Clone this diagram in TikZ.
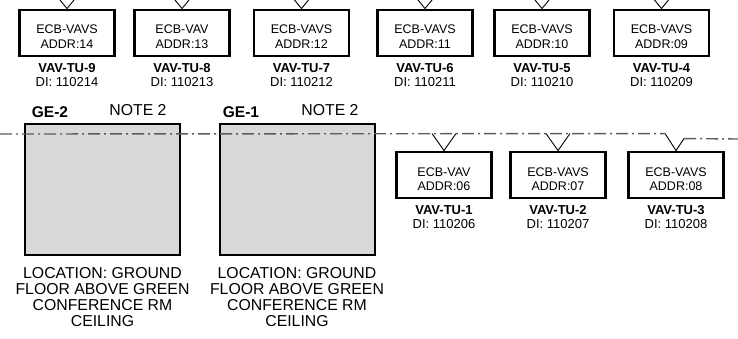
\documentclass[tikz,border=0pt]{standalone}
\usepackage{fontspec}
\setmainfont{Liberation Sans}
\usepackage{tikz}
\usetikzlibrary{positioning,calc}
\definecolor{ink}{HTML}{000000}
\definecolor{shade}{HTML}{D9D9D9}
\definecolor{busgray}{HTML}{5C5C5C}

\begin{document}
\begin{tikzpicture}[x=1pt,y=-1pt,
  ecb/.style={draw=ink,line width=2.9pt,minimum width=95pt,minimum height=46pt,
    align=center,inner sep=0pt,font=\fontsize{12.5}{14.5}\selectfont,
    text height=31pt,text depth=0pt},
  tag/.style={align=center,inner sep=0pt,font=\fontsize{13}{14}\selectfont},
  panel/.style={draw=ink,line width=2pt,fill=shade,minimum width=155pt,minimum height=131pt},
  note/.style={align=center,inner sep=0pt,font=\fontsize{15.8}{16}\selectfont},
  wire/.style={draw=ink,line width=0.9pt},
  busline/.style={draw=busgray,line width=1.4pt,dash pattern=on 12pt off 4pt on 2pt off 4pt}]
\clip (0,0) rectangle (738,339);

% top row of controllers
\node[ecb] (t9) at (67,33) {ECB-VAVS\\ADDR:14};
\node[ecb] (t8) at (182,33) {ECB-VAV\\ADDR:13};
\node[ecb] (t7) at (301.5,33) {ECB-VAVS\\ADDR:12};
\node[ecb] (t6) at (425,33) {ECB-VAVS\\ADDR:11};
\node[ecb] (t5) at (542,33) {ECB-VAVS\\ADDR:10};
\node[ecb] (t4) at (661.5,33) {ECB-VAVS\\ADDR:09};
\node[tag,below=6pt of t9] (t9l) {\textbf{VAV-TU-9}\\DI: 110214};
\node[tag,below=6pt of t8] (t8l) {\textbf{VAV-TU-8}\\DI: 110213};
\node[tag,below=6pt of t7] (t7l) {\textbf{VAV-TU-7}\\DI: 110212};
\node[tag,below=6pt of t6] (t6l) {\textbf{VAV-TU-6}\\DI: 110211};
\node[tag,below=6pt of t5] (t5l) {\textbf{VAV-TU-5}\\DI: 110210};
\node[tag,below=6pt of t4] (t4l) {\textbf{VAV-TU-4}\\DI: 110209};
\draw[wire] ($(t9.north)+(-9,-11)$) -- (t9.north) -- ($(t9.north)+(9,-11)$);
\draw[wire] ($(t8.north)+(-9,-11)$) -- (t8.north) -- ($(t8.north)+(9,-11)$);
\draw[wire] ($(t7.north)+(-9,-11)$) -- (t7.north) -- ($(t7.north)+(9,-11)$);
\draw[wire] ($(t6.north)+(-9,-11)$) -- (t6.north) -- ($(t6.north)+(9,-11)$);
\draw[wire] ($(t5.north)+(-9,-11)$) -- (t5.north) -- ($(t5.north)+(9,-11)$);
\draw[wire] ($(t4.north)+(-9,-11)$) -- (t4.north) -- ($(t4.north)+(9,-11)$);

% equipment panels
\node[panel] (ge2) at (102.5,189.5) {};
\node[panel] (ge1) at (297,189.5) {};
\node[note,font=\fontsize{15.5}{16}\selectfont\bfseries] (ge2t) at (50,112) {GE-2};
\node[note] (ge2n) at (138,110) {NOTE 2};
\node[note,font=\fontsize{15.5}{16}\selectfont\bfseries] (ge1t) at (241,112) {GE-1};
\node[note] (ge1n) at (330,110) {NOTE 2};
\node[note,below=11pt of ge2] (ge2loc) {LOCATION: GROUND\\FLOOR ABOVE GREEN\\CONFERENCE RM\\CEILING};
\node[note,below=11pt of ge1] (ge1loc) {LOCATION: GROUND\\FLOOR ABOVE GREEN\\CONFERENCE RM\\CEILING};

% lower row of controllers
\node[ecb] (b1) at (444,175) {ECB-VAV\\ADDR:06};
\node[ecb] (b2) at (558,175) {ECB-VAVS\\ADDR:07};
\node[ecb] (b3) at (676,175) {ECB-VAVS\\ADDR:08};
\node[tag,below=6pt of b1] (b1l) {\textbf{VAV-TU-1}\\DI: 110206};
\node[tag,below=6pt of b2] (b2l) {\textbf{VAV-TU-2}\\DI: 110207};
\node[tag,below=6pt of b3] (b3l) {\textbf{VAV-TU-3}\\DI: 110208};

% trunk
\coordinate (busw) at (0,134);
\coordinate (buse) at (738,139);
\coordinate (b3in) at ($(b3.north)+(-11,-17)$);
\coordinate (b3out) at ($(b3.north)+(8,-12)$);
\draw[busline] (busw) -- (b3in);
\draw[busline] (b3out) -- (buse);
\draw[wire] ($(b1.north)+(-12,-17)$) -- (b1.north) -- ($(b1.north)+(12,-17)$);
\draw[wire] ($(b2.north)+(-12,-17)$) -- (b2.north) -- ($(b2.north)+(12,-17)$);
\draw[wire] (b3in) -- (b3.north) -- (b3out);
\end{tikzpicture}
\end{document}
